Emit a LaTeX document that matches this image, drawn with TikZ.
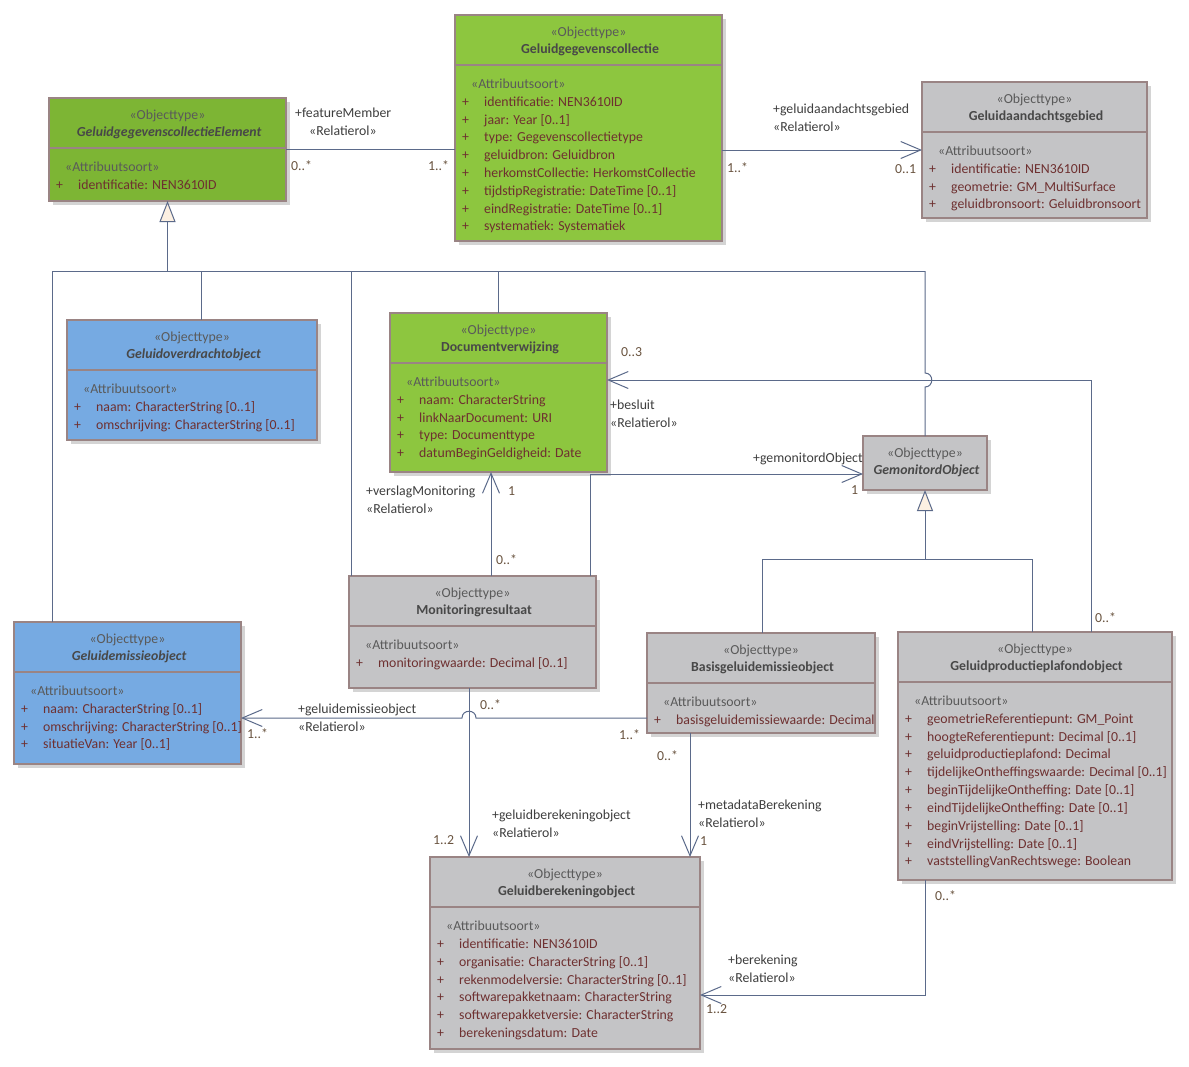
\documentclass[tikz,border=0pt]{standalone}
\usepackage{fontspec}
\setmainfont{Carlito}
\usetikzlibrary{arrows.meta}
\definecolor{gA}{HTML}{8DC63F}
\definecolor{gB}{HTML}{7DB534}
\definecolor{bl}{HTML}{76AAE2}
\definecolor{gr}{HTML}{C4C4C6}
\definecolor{bd}{HTML}{9A8484}
\definecolor{ln}{HTML}{5B6A8A}
\definecolor{shc}{HTML}{D4D4D4}
\definecolor{stc}{HTML}{5A5A5A}
\definecolor{nmc}{HTML}{484848}
\definecolor{atc}{HTML}{6E3030}
\definecolor{lbc}{HTML}{3E3E3E}
\definecolor{mlc}{HTML}{6A5440}
\definecolor{tri}{HTML}{FCF0E2}

\tikzset{
  clsbox/.style={draw=bd, inner sep=0pt, outer sep=0pt},
  stereo/.style={text=stc, inner sep=0pt, yshift=-2pt},
  ttl/.style={text=nmc, inner sep=0pt, yshift=-2pt},
  plus/.style={text=atc, inner sep=0pt, anchor=mid west, yshift=-2pt},
  attr/.style={text=atc, inner sep=0pt, anchor=mid west, yshift=-2pt},
  lbl/.style={text=lbc, inner sep=0pt, anchor=mid west, yshift=-2pt},
  mult/.style={text=mlc, inner sep=0pt, anchor=mid west, yshift=-2pt},
  conn/.style={draw=ln, line width=1pt},
  oarrow/.style={-{Straight Barb[length=20pt,width=17pt,line width=1pt]}},
  genarrow/.style={-{Triangle[length=21pt,width=16pt,fill=tri,line width=1pt]}},
}

\newcommand{\umlclass}[9]{%
  \fill[shc] ({#2+4},{#3+4}) rectangle ({#4+4},{#5+4});
  \node[clsbox, fill=#6, line width=#7, anchor=north west,
        minimum width={#4-#2}, minimum height={#5-#3}] (#1) at (#2,#3) {};
  \node[stereo] (#1-st) at ({(#2+#4)/2},{#3+16}) {«Objecttype»};
  \node[ttl] (#1-nm) at ({(#2+#4)/2},{#3+33}) {#8 #9};
}
\newcommand{\umlattrs}[6]{%
  \draw[draw=bd, line width=#5] (#2,{#3+50}) -- (#4,{#3+50});
  \node[stereo, anchor=mid west] (#1-ah) at ({#2+16},{#3+69}) {«Attribuutsoort»};
  \foreach \a [count=\i] in {#6} {
    \node[plus] (#1-p\i) at ({#2+7},{#3+87+(\i-1)*17.8}) {+};
    \node[attr] (#1-a\i) at ({#2+29},{#3+87+(\i-1)*17.8}) {\a};
  }
}

\begin{document}
\begin{tikzpicture}[x=1pt,y=-1pt,font=\fontsize{13.8}{16}\selectfont]
\fill[white] (0,0) rectangle (1189,1066);
\useasboundingbox (0,0) rectangle (1189,1066);

% classes
\umlclass{elem}{49}{98}{286}{201}{gB}{2.6pt}{\bfseries\itshape}{GeluidgegevenscollectieElement}
\umlattrs{elem}{49}{98}{286}{2.6pt}{identificatie: NEN3610ID}

\umlclass{coll}{455}{15}{722}{241}{gA}{1.3pt}{\bfseries}{Geluidgegevenscollectie}
\umlattrs{coll}{455}{15}{722}{1.3pt}{identificatie: NEN3610ID, jaar: Year [0..1], type: Gegevenscollectietype, geluidbron: Geluidbron, herkomstCollectie: HerkomstCollectie, tijdstipRegistratie: DateTime [0..1], eindRegistratie: DateTime [0..1], systematiek: Systematiek}

\umlclass{aand}{922}{82}{1147}{218}{gr}{1.3pt}{\bfseries}{Geluidaandachtsgebied}
\umlattrs{aand}{922}{82}{1147}{1.3pt}{identificatie: NEN3610ID, geometrie: GM\_MultiSurface, geluidbronsoort: Geluidbronsoort}

\umlclass{over}{67}{320}{317}{440}{bl}{2.6pt}{\bfseries\itshape}{Geluidoverdrachtobject}
\umlattrs{over}{67}{320}{317}{2.6pt}{naam: CharacterString [0..1], omschrijving: CharacterString [0..1]}

\umlclass{doc}{390}{313}{607}{472}{gA}{2.6pt}{\bfseries}{Documentverwijzing}
\umlattrs{doc}{390}{313}{607}{2.6pt}{naam: CharacterString, linkNaarDocument: URI, type: Documenttype, datumBeginGeldigheid: Date}

\umlclass{gem}{863}{436}{987}{490}{gr}{2.6pt}{\bfseries\itshape}{GemonitordObject}

\umlclass{mon}{349}{576}{596}{688}{gr}{1.3pt}{\bfseries}{Monitoringresultaat}
\umlattrs{mon}{349}{576}{596}{1.3pt}{monitoringwaarde: Decimal [0..1]}

\umlclass{emis}{14}{622}{241}{764}{bl}{2.6pt}{\bfseries\itshape}{Geluidemissieobject}
\umlattrs{emis}{14}{622}{241}{2.6pt}{naam: CharacterString [0..1], omschrijving: CharacterString [0..1], situatieVan: Year [0..1]}

\umlclass{basis}{647}{633}{875}{733}{gr}{1.3pt}{\bfseries}{Basisgeluidemissieobject}
\umlattrs{basis}{647}{633}{875}{1.3pt}{basisgeluidemissiewaarde: Decimal}

\umlclass{plaf}{898}{632}{1172}{880}{gr}{2.6pt}{\bfseries}{Geluidproductieplafondobject}
\umlattrs{plaf}{898}{632}{1172}{2.6pt}{geometrieReferentiepunt: GM\_Point, hoogteReferentiepunt: Decimal [0..1], geluidproductieplafond: Decimal, tijdelijkeOntheffingswaarde: Decimal [0..1], beginTijdelijkeOntheffing: Date [0..1], eindTijdelijkeOntheffing: Date [0..1], beginVrijstelling: Date [0..1], eindVrijstelling: Date [0..1], vaststellingVanRechtswege: Boolean}

\umlclass{ber}{430}{857}{700}{1049}{gr}{1.3pt}{\bfseries}{Geluidberekeningobject}
\umlattrs{ber}{430}{857}{700}{1.3pt}{identificatie: NEN3610ID, organisatie: CharacterString [0..1], rekenmodelversie: CharacterString [0..1], softwarepakketnaam: CharacterString, softwarepakketversie: CharacterString, berekeningsdatum: Date}

% coordinates
\coordinate (busL) at (52,271);
\coordinate (busR) at (925,271);
\coordinate (b2) at (201,271);
\coordinate (b3) at (351,271);
\coordinate (hv1) at (925,373);
\coordinate (hv2) at (925,387);
\coordinate (bs) at (1091,380);
\coordinate (gm) at (590,474);
\coordinate (vm) at (491,520);
\coordinate (g2L) at (762,559);
\coordinate (g2R) at (1032,559);
\coordinate (ge) at (600,718);
\coordinate (he1) at (476,718);
\coordinate (he2) at (462,718);
\coordinate (gb) at (469,800);
\coordinate (mb) at (690,800);
\coordinate (bk) at (925,995);

% connectors
\draw[conn] (elem.east) -- (elem.east -| coll.west);
\draw[conn, oarrow] (coll.east |- aand.west) -- (aand.west);

\draw[conn, genarrow] (elem.south |- busL) -- (elem.south);
\draw[conn] (busL) -- (busR);
\draw[conn] (busL) -- (busL |- emis.north);
\draw[conn] (b2) -- (b2 |- over.north);
\draw[conn] (b3) -- (b3 |- mon.north);
\draw[conn] (doc.north |- busL) -- (doc.north);
\draw[conn] (busR) -- (hv1) .. controls (934,373) and (934,387) .. (hv2) -- (gem.north);

\draw[conn, oarrow] (plaf.north -| bs) -- (bs) -- (bs -| doc.east);
\draw[conn, oarrow] (mon.north -| gm) -- (gm) -- (gm -| gem.west);
\draw[conn, oarrow] (mon.north -| vm) -- (doc.south -| vm);

\draw[conn, genarrow] (gem.south |- g2L) -- (gem.south);
\draw[conn] (g2L) -- (g2R);
\draw[conn] (g2L) -- (g2L |- basis.north);
\draw[conn] (g2R) -- (g2R |- plaf.north);

\draw[conn, oarrow] (basis.west |- ge) -- (he1) .. controls (476,709) and (462,709) .. (he2) -- (emis.east |- ge);
\draw[conn, oarrow] (mon.south -| gb) -- (ber.north -| gb);
\draw[conn, oarrow] (basis.south -| mb) -- (ber.north -| mb);
\draw[conn, oarrow] (plaf.south -| bk) -- (bk) -- (bk -| ber.east);

% labels
\node[lbl] (l1) at (295,113) {+featureMember};
\node[lbl] (l2) at (309,131) {«Relatierol»};
\node[mult] (m1) at (291,166) {0..*};
\node[mult] (m2) at (428,166) {1..*};

\node[lbl] (l3) at (773,109) {+geluidaandachtsgebied};
\node[lbl] (l4) at (773,127) {«Relatierol»};
\node[mult] (m3) at (727,168) {1..*};
\node[mult] (m4) at (895,169) {0..1};

\node[mult] (m5) at (621,352) {0..3};
\node[lbl] (l5) at (610,405) {+besluit};
\node[lbl] (l6) at (610,423) {«Relatierol»};
\node[mult] (m6) at (1095,618) {0..*};

\node[lbl] (l7) at (753,458) {+gemonitordObject};
\node[mult] (m7) at (851,490) {1};

\node[lbl] (l8) at (366,491) {+verslagMonitoring};
\node[lbl] (l9) at (366,509) {«Relatierol»};
\node[mult] (m8) at (508,491) {1};
\node[mult] (m9) at (496,560) {0..*};

\node[lbl] (l10) at (298,709) {+geluidemissieobject};
\node[lbl] (l11) at (298,727) {«Relatierol»};
\node[mult] (m10) at (247,734) {1..*};
\node[mult] (m11) at (619,735) {1..*};
\node[mult] (m12) at (480,705) {0..*};

\node[lbl] (l12) at (492,815) {+geluidberekeningobject};
\node[lbl] (l13) at (492,833) {«Relatierol»};
\node[mult] (m13) at (433,840) {1..2};

\node[lbl] (l14) at (698,805) {+metadataBerekening};
\node[lbl] (l15) at (698,823) {«Relatierol»};
\node[mult] (m14) at (700,841) {1};
\node[mult] (m15) at (657,756) {0..*};

\node[lbl] (l16) at (728,960) {+berekening};
\node[lbl] (l17) at (728,978) {«Relatierol»};
\node[mult] (m16) at (706,1009) {1..2};
\node[mult] (m17) at (935,896) {0..*};
\end{tikzpicture}
\end{document}
